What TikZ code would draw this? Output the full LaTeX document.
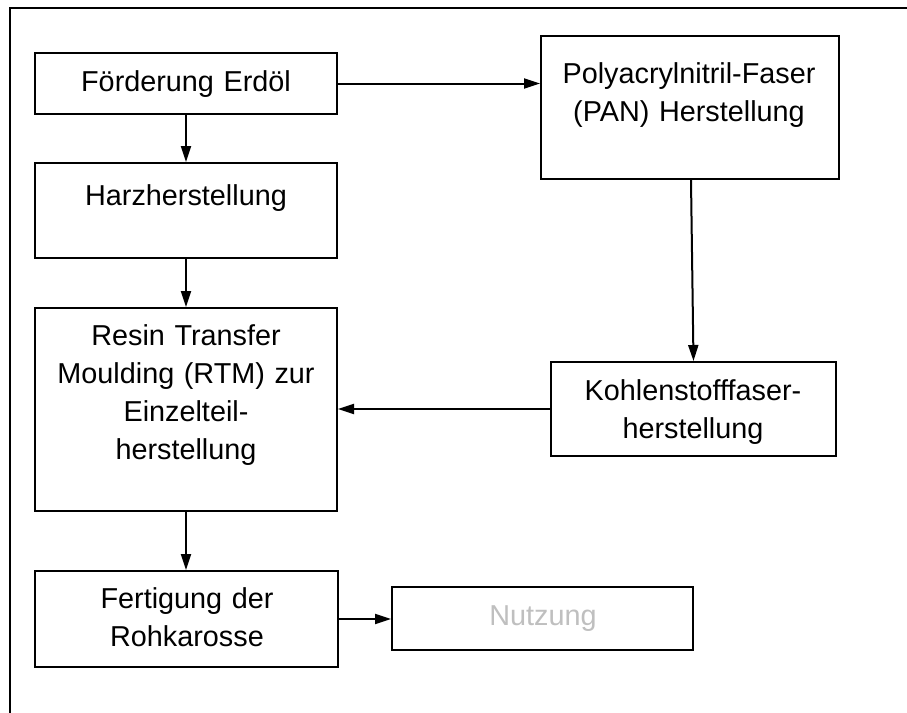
\documentclass[tikz,border=0pt]{standalone}
\usepackage{fontspec}
\setmainfont{Liberation Sans}
\usetikzlibrary{arrows.meta}
\begin{document}
\begin{tikzpicture}[x=0.5pt,y=-0.5pt,
  box/.style={draw=black, line width=1pt, inner sep=0pt, fill=white},
  lbl/.style={anchor=base, align=center, text width=145pt, inner sep=0pt,
    font=\fontsize{14.4}{19}\selectfont},
  flow/.style={draw=black, line width=1pt, -{Triangle[length=8pt,width=5pt]}},
  frame/.style={draw=black, line width=1.35pt}]
\useasboundingbox (0,0) rectangle (907,713);
% outer frame (top and left edges)
\draw[frame] (10,713) -- (10,8) -- (907,8);

% process boxes
\node[box, minimum width=151pt, minimum height=30.5pt]  (foerd) at (186,83.5) {};
\node[box, minimum width=151pt, minimum height=47.5pt]  (harz)  at (186,210.5) {};
\node[box, minimum width=151pt, minimum height=101.5pt] (rtm)   at (186,409.5) {};
\node[box, minimum width=151.5pt, minimum height=48pt]  (fert)  at (186.5,619) {};
\node[box, minimum width=150.5pt, minimum height=31.5pt] (nutz) at (542.5,618.5) {};
\node[box, minimum width=149pt, minimum height=71.5pt]  (pan)   at (690,107.5) {};
\node[box, minimum width=142.5pt, minimum height=47pt]  (kohle) at (693.5,409) {};

% box texts
\node[lbl] (t-foerd) at (186,91)  {Förderung Erdöl};
\node[lbl] (t-harz)  at (186,205) {Harzherstellung};
\node[lbl] (t-rtm)   at (186,345) {Resin Transfer\\Moulding (RTM) zur\\Einzelteil-\\herstellung};
\node[lbl] (t-fert)  at (187,608) {Fertigung der\\Rohkarosse};
\node[lbl, text=black!25] (t-nutz) at (543,625) {Nutzung};
\node[lbl] (t-pan)   at (689,83)  {Polyacrylnitril-Faser\\(PAN) Herstellung};
\node[lbl] (t-kohle) at (693,400) {Kohlenstofffaser-\\herstellung};

% connectors
\draw[flow] (foerd.east) -- (foerd.east -| pan.west);
\draw[flow] (foerd.south) -- (harz.north);
\draw[flow] (harz.south) -- (rtm.north);
\draw[flow] (rtm.south) -- (rtm.south |- fert.north);
\draw[flow] ([xshift=0.5pt]pan.south) -- (kohle.north);
\draw[flow] (kohle.west) -- (kohle.west -| rtm.east);
\draw[flow] (fert.east) -- (fert.east -| nutz.west);
\end{tikzpicture}
\end{document}
